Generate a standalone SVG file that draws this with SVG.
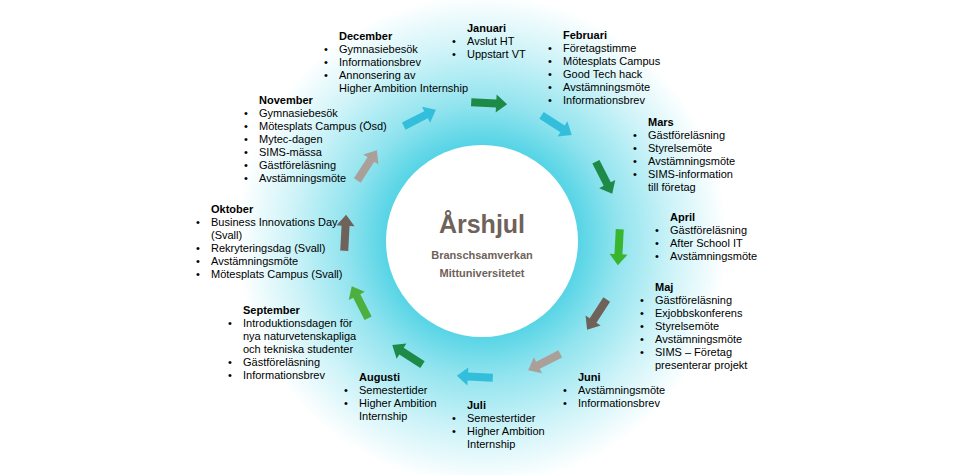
<svg xmlns="http://www.w3.org/2000/svg" width="966" height="475" viewBox="0 0 966 475">
<defs>
<radialGradient id="glow" cx="482" cy="240" r="245" gradientUnits="userSpaceOnUse">
<stop offset="0.38" stop-color="#52d3e5"/>
<stop offset="0.55" stop-color="#8fe3ee"/>
<stop offset="0.78" stop-color="#cdf3f8"/>
<stop offset="1" stop-color="#ffffff"/>
</radialGradient>
<path id="arr" d="M-18,-4 L7,-4 L7,-9 L18,0 L7,9 L7,4 L-18,4 Z"/>
</defs>
<style>
text{font-family:"Liberation Sans",Arial,sans-serif;font-size:11px;fill:#000}
.t{font-weight:bold}
.c{fill:#6e625a;font-weight:bold;text-anchor:middle}
</style>
<rect width="966" height="475" fill="#fff"/>
<circle cx="482" cy="240" r="245" fill="url(#glow)"/>
<g id="center">
<circle cx="482" cy="241" r="96" fill="#fff"/>
<text class="c" x="482" y="233" style="font-size:25px">Årshjul</text>
<text class="c" x="482" y="259">Branschsamverkan</text>
<text class="c" x="482" y="277">Mittuniversitetet</text>
</g>
<g id="connectors">
<use href="#arr" fill="#1e8a48" transform="rotate(3 482 240) translate(482 103)"/>
<use href="#arr" fill="#33bfdc" transform="rotate(33 482 240) translate(482 103)"/>
<use href="#arr" fill="#1e8a48" transform="rotate(63 482 240) translate(482 103)"/>
<use href="#arr" fill="#3ab52f" transform="rotate(93 482 240) translate(482 103)"/>
<use href="#arr" fill="#6e625a" transform="rotate(123 482 240) translate(482 103)"/>
<use href="#arr" fill="#aaa099" transform="rotate(153 482 240) translate(482 103)"/>
<use href="#arr" fill="#33bfdc" transform="rotate(183 482 240) translate(482 103)"/>
<use href="#arr" fill="#1e8a48" transform="rotate(213 482 240) translate(482 103)"/>
<use href="#arr" fill="#4caf3e" transform="rotate(243 482 240) translate(482 103)"/>
<use href="#arr" fill="#6e625a" transform="rotate(273 482 240) translate(482 103)"/>
<use href="#arr" fill="#aaa099" transform="rotate(303 482 240) translate(482 103)"/>
<use href="#arr" fill="#33bfdc" transform="rotate(333 482 240) translate(482 103)"/>
</g>
<g id="januari"><text class="t" x="467" y="32">Januari</text>
<text x="452" y="45">•</text><text x="467" y="45">Avslut HT</text>
<text x="452" y="58">•</text><text x="467" y="58">Uppstart VT</text></g>
<g id="februari"><text class="t" x="563" y="39">Februari</text>
<text x="548" y="52">•</text><text x="563" y="52">Företagstimme</text>
<text x="548" y="65">•</text><text x="563" y="65">Mötesplats Campus</text>
<text x="548" y="78">•</text><text x="563" y="78">Good Tech hack</text>
<text x="548" y="91">•</text><text x="563" y="91">Avstämningsmöte</text>
<text x="548" y="104">•</text><text x="563" y="104">Informationsbrev</text></g>
<g id="mars"><text class="t" x="648" y="126">Mars</text>
<text x="633" y="139">•</text><text x="648" y="139">Gästföreläsning</text>
<text x="633" y="152">•</text><text x="648" y="152">Styrelsemöte</text>
<text x="633" y="165">•</text><text x="648" y="165">Avstämningsmöte</text>
<text x="633" y="178">•</text><text x="648" y="178">SIMS-information</text>
<text x="648" y="191">till företag</text></g>
<g id="april"><text class="t" x="670" y="221">April</text>
<text x="655" y="234">•</text><text x="670" y="234">Gästföreläsning</text>
<text x="655" y="247">•</text><text x="670" y="247">After School IT</text>
<text x="655" y="260">•</text><text x="670" y="260">Avstämningsmöte</text></g>
<g id="maj"><text class="t" x="655" y="291">Maj</text>
<text x="640" y="304">•</text><text x="655" y="304">Gästföreläsning</text>
<text x="640" y="317">•</text><text x="655" y="317">Exjobbskonferens</text>
<text x="640" y="330">•</text><text x="655" y="330">Styrelsemöte</text>
<text x="640" y="343">•</text><text x="655" y="343">Avstämningsmöte</text>
<text x="640" y="356">•</text><text x="655" y="356">SIMS – Företag</text>
<text x="655" y="369">presenterar projekt</text></g>
<g id="juni"><text class="t" x="578" y="381">Juni</text>
<text x="563" y="394">•</text><text x="578" y="394">Avstämningsmöte</text>
<text x="563" y="407">•</text><text x="578" y="407">Informationsbrev</text></g>
<g id="juli"><text class="t" x="467" y="409">Juli</text>
<text x="452" y="422">•</text><text x="467" y="422">Semestertider</text>
<text x="452" y="435">•</text><text x="467" y="435">Higher Ambition</text>
<text x="467" y="448">Internship</text></g>
<g id="augusti"><text class="t" x="359" y="381">Augusti</text>
<text x="344" y="394">•</text><text x="359" y="394">Semestertider</text>
<text x="344" y="407">•</text><text x="359" y="407">Higher Ambition</text>
<text x="359" y="420">Internship</text></g>
<g id="september"><text class="t" x="243" y="314">September</text>
<text x="228" y="327">•</text><text x="243" y="327">Introduktionsdagen för</text>
<text x="243" y="340">nya naturvetenskapliga</text>
<text x="243" y="353">och tekniska studenter</text>
<text x="228" y="366">•</text><text x="243" y="366">Gästföreläsning</text>
<text x="228" y="379">•</text><text x="243" y="379">Informationsbrev</text></g>
<g id="oktober"><text class="t" x="211" y="213">Oktober</text>
<text x="196" y="226">•</text><text x="211" y="226">Business Innovations Day</text>
<text x="211" y="239">(Svall)</text>
<text x="196" y="252">•</text><text x="211" y="252">Rekryteringsdag (Svall)</text>
<text x="196" y="265">•</text><text x="211" y="265">Avstämningsmöte</text>
<text x="196" y="278">•</text><text x="211" y="278">Mötesplats Campus (Svall)</text></g>
<g id="november"><text class="t" x="259" y="104">November</text>
<text x="244" y="117">•</text><text x="259" y="117">Gymnasiebesök</text>
<text x="244" y="130">•</text><text x="259" y="130">Mötesplats Campus (Ösd)</text>
<text x="244" y="143">•</text><text x="259" y="143">Mytec-dagen</text>
<text x="244" y="156">•</text><text x="259" y="156">SIMS-mässa</text>
<text x="244" y="169">•</text><text x="259" y="169">Gästföreläsning</text>
<text x="244" y="182">•</text><text x="259" y="182">Avstämningsmöte</text></g>
<g id="december"><text class="t" x="339" y="40">December</text>
<text x="324" y="53">•</text><text x="339" y="53">Gymnasiebesök</text>
<text x="324" y="66">•</text><text x="339" y="66">Informationsbrev</text>
<text x="324" y="79">•</text><text x="339" y="79">Annonsering av</text>
<text x="339" y="92">Higher Ambition Internship</text></g>
</svg>
